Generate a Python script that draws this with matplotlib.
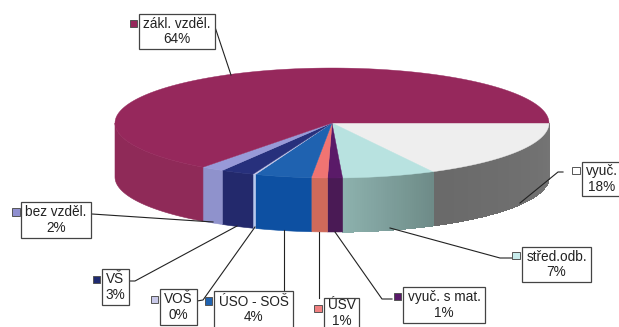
import numpy as np
import matplotlib
matplotlib.use('Agg')
import matplotlib.pyplot as plt
from matplotlib.patches import Rectangle

plt.rcParams['font.family'] = ['Liberation Sans', 'DejaVu Sans']

# clockwise from the right-hand edge of the pie
categories = ['vyuč.', 'střed.odb.', 'vyuč. s mat.', 'ÚSV', 'ÚSO - SOŠ', 'VOŠ', 'VŠ', 'bez vzděl.', 'zákl. vzděl.']
values = [17.3, 6.9, 1.1, 1.2, 4.2, 0.2, 2.5, 1.7, 64.8]
shown_pct = [18, 7, 1, 1, 4, 0, 3, 2, 64]

top_colors = ['#eeeeee', '#b8e2e0', '#5a1a68', '#f07472', '#1f62b0', '#c8c8e8', '#27307c', '#989ad8', '#96285c']
side_colors = ['#757575', '#8db2ae', '#4a1a55', '#cf6a5a', '#0d50a2', '#b8c8ec', '#23296c', '#8f92cc', '#8f2a58']
key_colors = ['#ffffff', '#c8ecec', '#5a1a6a', '#f08080', '#1f62b0', '#c8c8e8', '#1f2a70', '#9090d0', '#96285c']

# pie geometry in pixels
cx, cy, rx, ry, depth = 332, 123, 217, 55, 54

# box: x0, x1, y0, y1; key: x, y; leader points from pie to box
boxes = {
    'vyuč.': (582, 622, 162, 196),
    'střed.odb.': (522, 591, 247, 282),
    'vyuč. s mat.': (403, 485, 287, 323),
    'ÚSV': (324, 359, 298, 328),
    'ÚSO - SOŠ': (214, 293, 291, 328),
    'VOŠ': (160, 197, 289, 325),
    'VŠ': (102, 129, 269, 305),
    'bez vzděl.': (21, 91, 202, 238),
    'zákl. vzděl.': (139, 215, 14, 49),
}
keys = {
    'vyuč.': (575.5, 170), 'střed.odb.': (515.5, 255), 'vyuč. s mat.': (397, 296),
    'ÚSV': (317.5, 308), 'ÚSO - SOŠ': (208, 300.5), 'VOŠ': (154, 299),
    'VŠ': (96, 279), 'bez vzděl.': (15.5, 211.5), 'zákl. vzděl.': (133, 23),
}
leaders = {
    'vyuč.': [(520, 203), (558, 172), (563, 172)],
    'střed.odb.': [(390, 228), (500, 258), (512, 258)],
    'vyuč. s mat.': [(335, 232), (382, 299), (392, 299)],
    'ÚSV': [(319, 232), (319, 298)],
    'ÚSO - SOŠ': [(284, 230), (284, 291)],
    'VOŠ': [(255, 227), (203, 300), (197, 301)],
    'VŠ': [(237, 226), (135, 281), (130, 281)],
    'bez vzděl.': [(213, 222), (92, 214)],
    'zákl. vzděl.': [(215, 27), (231, 75)],
}


def shade(color, f):
    rgb = np.array(matplotlib.colors.to_rgb(color)) * f
    return tuple(np.clip(rgb, 0, 1))


fig = plt.figure(figsize=(6.19, 3.27), dpi=100)
ax = fig.add_axes([0, 0, 1, 1])
ax.set_xlim(0, 619)
ax.set_ylim(327, 0)
ax.axis('off')

angles = np.concatenate([[0], np.cumsum(values) / np.sum(values) * 360])

# side wall, only the two big front slices get a gradient
for i, name in enumerate(categories):
    a0, a1 = angles[i], min(angles[i + 1], 180)
    if a0 >= 180:
        continue
    n = 40 if name in ('střed.odb.', 'vyuč.') else 1
    steps = np.linspace(a0, a1, n + 1)
    for k in range(n):
        t = np.radians(np.linspace(steps[k], steps[k + 1], max(2, int(a1 - a0) + 2)))
        x = cx + rx * np.cos(t)
        y = cy + ry * np.sin(t)
        f = 1.0
        if name == 'střed.odb.':
            f = 0.78 + 0.22 * (k / n)
        elif name == 'vyuč.':
            f = 1.0 - 0.1 * (k / n)
        ax.fill(np.concatenate([x, x[::-1]]), np.concatenate([y, y[::-1] + depth]),
                color=shade(side_colors[i], f), lw=0.4, antialiased=n == 1)

# top face
for i in range(len(categories)):
    t = np.radians(np.linspace(angles[i], angles[i + 1], max(2, int(angles[i + 1] - angles[i]) + 2)))
    x = np.concatenate([[cx], cx + rx * np.cos(t)])
    y = np.concatenate([[cy], cy + ry * np.sin(t)])
    ax.fill(x, y, color=top_colors[i], lw=0.3)

# leaders, boxes, keys and labels
for i, name in enumerate(categories):
    pts = np.array(leaders[name])
    ax.plot(pts[:, 0], pts[:, 1], color='#222222', lw=0.8)
    x0, x1, y0, y1 = boxes[name]
    ax.add_patch(Rectangle((x0, y0), x1 - x0, y1 - y0, fc='white', ec='#444444', lw=0.9, zorder=3))
    ax.text((x0 + x1) / 2, (y0 + y1) / 2, f"{name}\n{shown_pct[i]}%", ha='center', va='center',
            fontsize=9.8, color='#222222', linespacing=1.1, zorder=4)
    kx, ky = keys[name]
    ax.add_patch(Rectangle((kx - 3.5, ky - 3.5), 7.5, 7.5, fc=key_colors[i], ec='#555555', lw=0.7, zorder=3))

fig.savefig('out.png', dpi=100)
